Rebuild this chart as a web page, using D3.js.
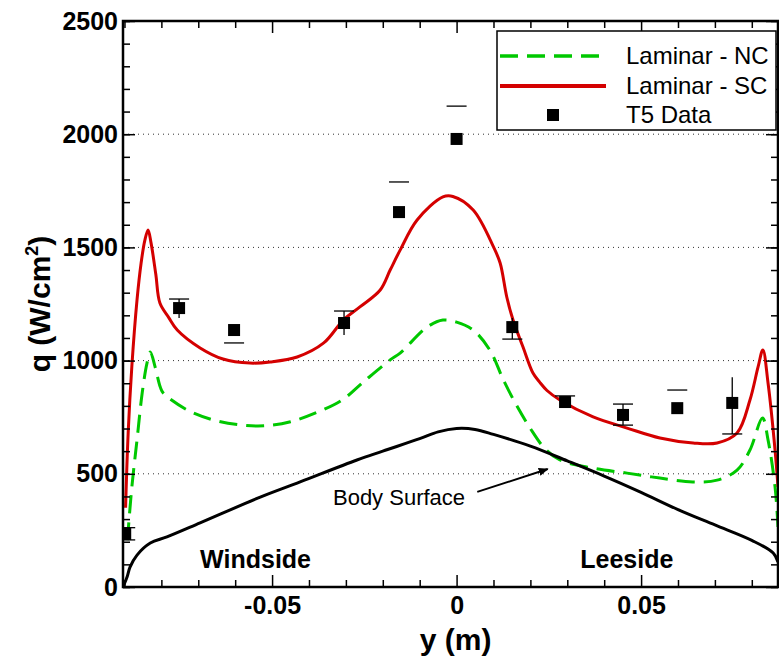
<!DOCTYPE html>
<html>
<head>
<meta charset="utf-8">
<script src="https://cdn.jsdelivr.net/npm/d3@7"></script>
<style>
  body { margin: 0; background: #fff; }
  svg { display: block; }
  text { font-family: "Liberation Sans", Arial, Helvetica, sans-serif; }
</style>
</head>
<body>
<div id="chart"></div>
<script>
// Laminar - NC (green dashed)
const ncY = [-0.0892, -0.088, -0.0866, -0.0852, -0.0839, -0.083, -0.0817, -0.0803, -0.0795, -0.073, -0.066, -0.0587,
  -0.052, -0.045, -0.038, -0.031, -0.0253, -0.018, -0.0153, -0.008, -0.0037, 0, 0.0045, 0.009, 0.0127, 0.016, 0.02,
  0.024, 0.028, 0.037, 0.0462, 0.0551, 0.064, 0.0706, 0.076, 0.0795, 0.0829, 0.0844, 0.0863, 0.0871];
const ncQ = [207, 442, 650, 857, 989, 1038, 972, 883, 857, 782, 738, 716,
  712, 730, 770, 826, 905, 1003, 1033, 1148, 1179, 1170, 1135, 1047, 914, 810, 700,
  610, 561, 525, 503, 481, 464, 472, 516, 605, 746, 650, 442, 265];

// Laminar - SC (red solid)
const scY = [-0.0897, -0.089, -0.088, -0.0866, -0.0855, -0.0845, -0.0836, -0.0828, -0.0815, -0.0804, -0.078, -0.0757,
  -0.0695, -0.0633, -0.056, -0.0505, -0.0432, -0.036, -0.0307, -0.0262, -0.0207, -0.018, -0.0153, -0.0107, -0.0037,
  -0.001, 0.0045, 0.01, 0.0118, 0.0136, 0.0153, 0.018, 0.0207, 0.0225, 0.0245, 0.028, 0.037, 0.0462, 0.0551, 0.0641,
  0.0706, 0.076, 0.0795, 0.0817, 0.083, 0.0844, 0.0863, 0.0871];
const scQ = [350, 680, 975, 1268, 1430, 1530, 1577, 1520, 1380, 1254, 1190, 1135,
  1056, 1007, 989, 994, 1016, 1078, 1179, 1237, 1312, 1400, 1488, 1621, 1723,
  1725, 1665, 1502, 1431, 1281, 1179, 1060, 945, 905, 868, 826, 751, 702, 658, 636,
  636, 680, 826, 972, 1047, 901, 605, 442];

// Body surface (black)
const bodyY = [-0.0904, -0.0893, -0.0885, -0.0866, -0.083, -0.0785, -0.0695, -0.0532, -0.0424, -0.027, -0.02, -0.01,
  -0.005, 0, 0.005, 0.01, 0.02, 0.03, 0.04, 0.05, 0.06, 0.07, 0.08, 0.0858, 0.0871];
const bodyQ = [0, 44, 88, 141, 194, 221, 283, 397, 464, 561, 600, 655,
  685, 700, 696, 674, 622, 557, 490, 418, 342, 274, 206, 150, 110];

// T5 Data with error bars
const t5Y = [-0.0898, -0.0752, -0.0603, -0.0305, -0.0156, 0.0, 0.0151, 0.0294, 0.0451, 0.0598, 0.0747];
const t5Q = [234, 1232, 1135, 1166, 1656, 1979, 1148, 817, 760, 790, 813];
const t5Lo = [208, 1188, 1078, 1113, 1656, 1979, 1095, 817, 715, 790, 676];
const t5Hi = [262, 1272, 1135, 1219, 1789, 2124, 1188, 844, 808, 870, 927];
const t5Caps = ["both", "top", "bottom", "top", "top", "top", "bottom", "top", "both", "top", "bottom"];
const t5Stem = [true, true, false, true, false, false, true, false, true, false, true];

// ticks
const xMajor = [-0.05, 0, 0.05];
const xLabels = ["-0.05", "0", "0.05"];
const xMinor = [-0.09, -0.08, -0.07, -0.06, -0.04, -0.03, -0.02, -0.01, 0.01, 0.02, 0.03, 0.04, 0.06, 0.07, 0.08];
const yMajor = [0, 500, 1000, 1500, 2000, 2500];
const yGrid = [500, 1000, 1500, 2000];

const legendNames = ["Laminar - NC", "Laminar - SC", "T5 Data"];

// layout
const W = 779, H = 660;
const mLeft = 123, mRight = 778, mTop = 21, mBottom = 587;

const svg = d3.select("#chart").append("svg")
  .attr("width", W)
  .attr("height", H);

const x = d3.scaleLinear().domain([-0.0904, 0.0871]).range([mLeft, mRight]);
const y = d3.scaleLinear().domain([0, 2500]).range([mBottom, mTop]);

svg.append("clipPath").attr("id", "plotclip")
  .append("rect")
  .attr("x", mLeft).attr("y", mTop)
  .attr("width", mRight - mLeft).attr("height", mBottom - mTop);

// dotted grid lines
svg.append("g")
  .selectAll("line")
  .data(yGrid)
  .enter().append("line")
  .attr("x1", mLeft).attr("x2", mRight)
  .attr("y1", d => y(d)).attr("y2", d => y(d))
  .attr("stroke", "#333")
  .attr("stroke-width", 1)
  .attr("stroke-dasharray", "1,4");

const plot = svg.append("g").attr("clip-path", "url(#plotclip)");

const line = d3.line()
  .x(d => x(d[0]))
  .y(d => y(d[1]))
  .curve(d3.curveCatmullRom.alpha(0.5));

// green dashed NC
plot.append("path")
  .attr("d", line(d3.zip(ncY, ncQ)))
  .attr("fill", "none")
  .attr("stroke", "#00c800")
  .attr("stroke-width", 3)
  .attr("stroke-dasharray", "18,9");

// red SC
plot.append("path")
  .attr("d", line(d3.zip(scY, scQ)))
  .attr("fill", "none")
  .attr("stroke", "#d40000")
  .attr("stroke-width", 3);

// body surface
plot.append("path")
  .attr("d", line(d3.zip(bodyY, bodyQ)))
  .attr("fill", "none")
  .attr("stroke", "#000")
  .attr("stroke-width", 3);

// error bars
const capW = 10;
t5Y.forEach((v, i) => {
  const cx = x(v);
  if (t5Stem[i]) {
    plot.append("line")
      .attr("x1", cx).attr("x2", cx)
      .attr("y1", y(t5Lo[i])).attr("y2", y(t5Hi[i]))
      .attr("stroke", "#000").attr("stroke-width", 1.3);
  }
  if (t5Caps[i] === "top" || t5Caps[i] === "both") {
    plot.append("line")
      .attr("x1", cx - capW).attr("x2", cx + capW)
      .attr("y1", y(t5Hi[i])).attr("y2", y(t5Hi[i]))
      .attr("stroke", "#000").attr("stroke-width", 1.3);
  }
  if (t5Caps[i] === "bottom" || t5Caps[i] === "both") {
    plot.append("line")
      .attr("x1", cx - capW).attr("x2", cx + capW)
      .attr("y1", y(t5Lo[i])).attr("y2", y(t5Lo[i]))
      .attr("stroke", "#000").attr("stroke-width", 1.3);
  }
});

// data squares
plot.selectAll("rect.pt")
  .data(d3.zip(t5Y, t5Q))
  .enter().append("rect")
  .attr("class", "pt")
  .attr("x", d => x(d[0]) - 6)
  .attr("y", d => y(d[1]) - 6)
  .attr("width", 12)
  .attr("height", 12)
  .attr("fill", "#000");

// axes (ticks pointing inward)
function styleAxis(g) {
  g.select(".domain").remove();
  g.selectAll(".tick line").attr("stroke", "#000").attr("stroke-width", 1.5);
  g.selectAll("text")
    .attr("fill", "#000")
    .style("font-size", "25px")
    .style("font-weight", "bold")
    .style("font-family", '"Liberation Sans", Arial, sans-serif');
}

svg.append("g")
  .attr("transform", "translate(0," + mBottom + ")")
  .call(d3.axisBottom(x).tickValues(xMajor).tickSize(-12).tickPadding(9)
    .tickFormat((d, i) => xLabels[i]))
  .call(styleAxis);
svg.append("g")
  .attr("transform", "translate(0," + mBottom + ")")
  .call(d3.axisBottom(x).tickValues(xMinor).tickSize(-7).tickFormat(""))
  .call(styleAxis);
svg.append("g")
  .attr("transform", "translate(0," + mTop + ")")
  .call(d3.axisTop(x).tickValues(xMajor).tickSize(-12).tickFormat(""))
  .call(styleAxis);
svg.append("g")
  .attr("transform", "translate(0," + mTop + ")")
  .call(d3.axisTop(x).tickValues(xMinor).tickSize(-7).tickFormat(""))
  .call(styleAxis);

svg.append("g")
  .attr("transform", "translate(" + mLeft + ",0)")
  .call(d3.axisLeft(y).tickValues(yMajor).tickSize(-12).tickPadding(5)
    .tickFormat(d3.format("d")))
  .call(styleAxis);
svg.append("g")
  .attr("transform", "translate(" + mLeft + ",0)")
  .call(d3.axisLeft(y).ticks(25).tickSize(-7).tickFormat(""))
  .call(styleAxis);
svg.append("g")
  .attr("transform", "translate(" + mRight + ",0)")
  .call(d3.axisRight(y).tickValues(yMajor).tickSize(-12).tickFormat(""))
  .call(styleAxis);
svg.append("g")
  .attr("transform", "translate(" + mRight + ",0)")
  .call(d3.axisRight(y).ticks(25).tickSize(-7).tickFormat(""))
  .call(styleAxis);

// frame
svg.append("rect")
  .attr("x", mLeft).attr("y", mTop)
  .attr("width", mRight - mLeft).attr("height", mBottom - mTop)
  .attr("fill", "none")
  .attr("stroke", "#000")
  .attr("stroke-width", 2.5);

// annotations
svg.append("text")
  .attr("x", x(-0.0695)).attr("y", y(84))
  .style("font-size", "25px").style("font-weight", "bold")
  .text("Windside");
svg.append("text")
  .attr("x", x(0.0335)).attr("y", y(84))
  .style("font-size", "25px").style("font-weight", "bold")
  .text("Leeside");
svg.append("text")
  .attr("x", x(-0.0335)).attr("y", y(362))
  .style("font-size", "22px")
  .text("Body Surface");

svg.append("defs").append("marker")
  .attr("id", "arrow")
  .attr("viewBox", "0 0 10 10")
  .attr("refX", 9).attr("refY", 5)
  .attr("markerWidth", 5).attr("markerHeight", 5)
  .attr("orient", "auto")
  .append("path")
  .attr("d", "M0,1 L10,5 L0,9 Z")
  .attr("fill", "#000");
svg.append("line")
  .attr("x1", x(0.0056)).attr("y1", y(420))
  .attr("x2", x(0.0247)).attr("y2", y(521))
  .attr("stroke", "#000").attr("stroke-width", 2)
  .attr("marker-end", "url(#arrow)");

// axis titles
svg.append("text")
  .attr("x", x(0) - 1).attr("y", 650)
  .attr("text-anchor", "middle")
  .style("font-size", "30px").style("font-weight", "bold")
  .text("y (m)");

const yt = svg.append("text")
  .attr("transform", "translate(50," + (mTop + mBottom) / 2 + ") rotate(-90)")
  .attr("text-anchor", "middle")
  .style("font-size", "30px").style("font-weight", "bold");
yt.append("tspan").text("q (W/cm");
yt.append("tspan").attr("dy", -12).style("font-size", "18px").text("2");
yt.append("tspan").attr("dy", 12).text(")");

// legend
const lg = svg.append("g");
lg.append("rect")
  .attr("x", 497).attr("y", 31)
  .attr("width", 279).attr("height", 99)
  .attr("fill", "#fff")
  .attr("stroke", "#000")
  .attr("stroke-width", 1.5);

const legendRows = [56, 86, 115];
lg.append("line")
  .attr("x1", 500).attr("x2", 606)
  .attr("y1", legendRows[0]).attr("y2", legendRows[0])
  .attr("stroke", "#00c800").attr("stroke-width", 3.5)
  .attr("stroke-dasharray", "18,9");
lg.append("line")
  .attr("x1", 500).attr("x2", 606)
  .attr("y1", legendRows[1]).attr("y2", legendRows[1])
  .attr("stroke", "#d40000").attr("stroke-width", 4);
lg.append("rect")
  .attr("x", 547).attr("y", legendRows[2] - 6)
  .attr("width", 12).attr("height", 12)
  .attr("fill", "#000");

lg.selectAll("text")
  .data(legendNames)
  .enter().append("text")
  .attr("x", 626)
  .attr("y", (d, i) => legendRows[i] + 8)
  .style("font-size", "24px")
  .text(d => d);
</script>
</body>
</html>
